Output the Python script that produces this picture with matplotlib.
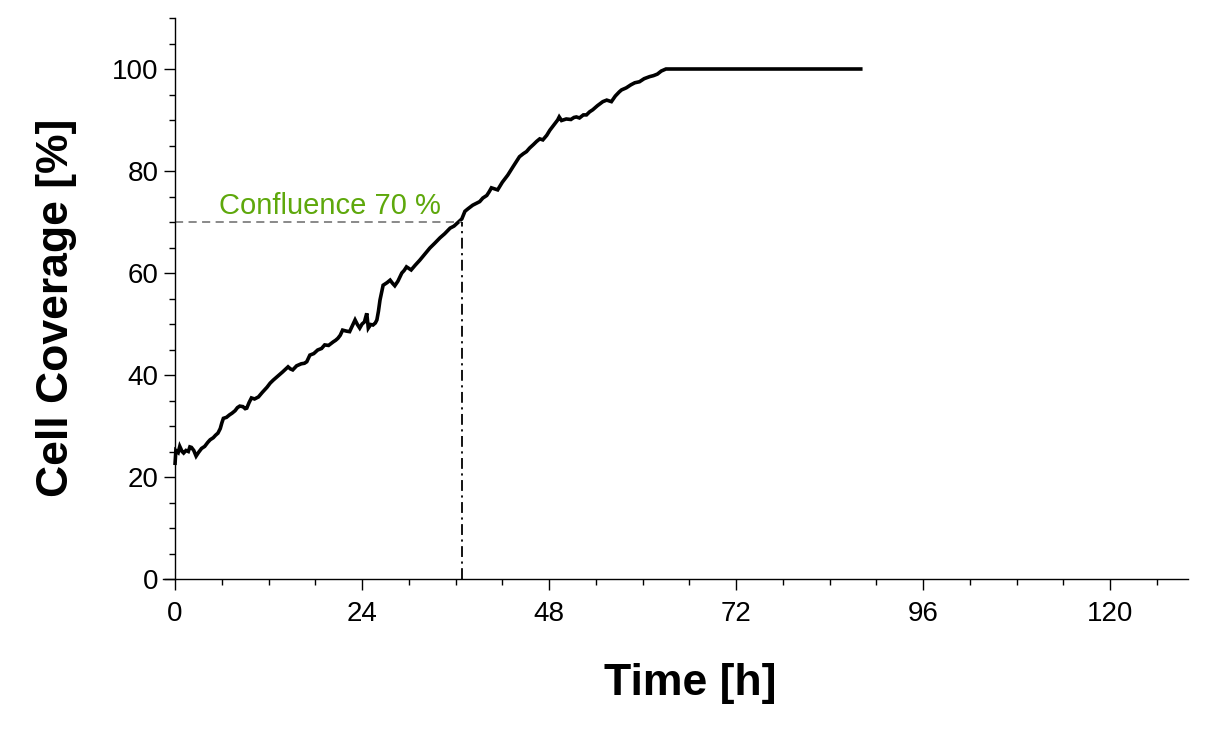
import matplotlib
matplotlib.use("Agg")
import matplotlib.pyplot as plt
from matplotlib.ticker import MultipleLocator

plt.rcParams['font.family'] = ['Liberation Sans', 'DejaVu Sans']

# Zeit [h] und Zellbedeckung [%]
time_h = [0, 0.1, 0.4, 0.6, 0.9, 1.1, 1.4, 1.7, 1.9, 2.1, 2.4, 2.7, 3.0, 3.4, 3.8,
          4.2, 4.5, 4.9, 5.2, 5.5, 5.8, 6.0, 6.2, 6.6, 7.0, 7.3, 7.7, 8.0, 8.3, 8.7,
          9.0, 9.2, 9.5, 9.8, 10.2, 10.7, 11.2, 11.8, 12.2, 12.6, 13.2, 13.8, 14.5,
          14.8, 15.1, 15.6, 16.2, 16.6, 16.9, 17.3, 17.8, 18.3, 18.8, 19.2, 19.7,
          20.3, 20.6, 20.9, 21.2, 21.5, 22.0, 22.4, 22.8, 23.1, 23.4, 23.7, 24.0,
          24.3, 24.6, 24.8, 25.1, 25.4, 25.7, 25.9, 26.1, 26.3, 26.7, 27.2, 27.6,
          27.9, 28.2, 28.6, 29.1, 29.4, 29.7, 30.3, 30.8, 31.4, 32.0, 32.7, 33.3,
          34.0, 34.6, 35.3, 35.8, 36.3, 36.8, 37.2, 37.6, 38.2, 38.7, 39.1, 39.5,
          40.0, 40.3, 40.6, 41.0, 41.4, 42.0, 42.7, 43.4, 44.2, 44.7, 45.1, 45.5,
          46.0, 46.4, 46.8, 47.2, 47.7, 48.1, 48.6, 49.1, 49.3, 49.6, 50.2, 50.8,
          51.2, 51.5, 51.9, 52.4, 52.8, 53.2, 53.6, 54.2, 54.9, 55.4, 56.0, 56.5,
          57.0, 57.3, 57.9, 58.5, 59.0, 59.6, 60.2, 60.9, 61.4, 61.9, 62.4, 63.0,
          88.0]
coverage = [22.7, 25.2, 24.8, 26.0, 25.0, 24.7, 25.2, 25.0, 25.9, 25.8, 25.2, 24.1,
            24.8, 25.6, 26.0, 26.8, 27.3, 27.7, 28.2, 28.6, 29.5, 30.6, 31.5, 31.7,
            32.2, 32.5, 33.0, 33.6, 33.9, 33.8, 33.4, 33.5, 34.6, 35.5, 35.3, 35.7,
            36.6, 37.6, 38.4, 39.0, 39.8, 40.6, 41.6, 41.2, 41.0, 41.8, 42.2, 42.3,
            42.6, 43.9, 44.2, 44.9, 45.2, 45.9, 45.8, 46.5, 46.8, 47.2, 47.8, 48.8,
            48.6, 48.5, 49.8, 50.8, 49.9, 49.2, 50.0, 50.4, 52.1, 49.2, 49.9, 49.8,
            50.2, 50.8, 52.5, 54.7, 57.6, 58.1, 58.6, 58.0, 57.5, 58.4, 60.0, 60.5,
            61.2, 60.6, 61.5, 62.5, 63.6, 64.9, 65.8, 66.9, 67.7, 68.8, 69.2, 69.9,
            70.6, 72.1, 72.6, 73.3, 73.7, 74.0, 74.7, 75.2, 75.9, 76.7, 76.5, 76.3,
            77.8, 79.2, 80.9, 82.8, 83.4, 83.8, 84.5, 85.2, 85.8, 86.3, 86.1, 87.0,
            88.0, 89.0, 90.0, 90.6, 89.9, 90.2, 90.1, 90.5, 90.6, 90.4, 91.0, 91.0,
            91.6, 92.0, 92.8, 93.6, 93.9, 93.6, 94.7, 95.5, 95.9, 96.3, 96.9, 97.3,
            97.5, 98.1, 98.5, 98.7, 99.0, 99.6, 100.0, 100.0]

confluence_level = 70
confluence_time = 36.8

fig = plt.figure(figsize=(12.2, 7.29), dpi=100)
ax = fig.add_axes([163 / 1220, 1 - 579 / 729, (1188 - 163) / 1220, (579 - 18) / 729])

ax.plot(time_h, coverage, color='black', lw=2.6, solid_joinstyle='miter')
ax.plot([0, confluence_time], [confluence_level, confluence_level],
        color='#808080', lw=1.3, ls=(0, (4.5, 3)))
ax.plot([confluence_time, confluence_time], [0, confluence_level],
        color='black', lw=1.3, ls=(0, (6, 2.5, 1.2, 2.5)))
ax.text(5.6, 71.6, 'Confluence 70 %', color='#5ea80c', fontsize=21,
        ha='left', va='baseline')

ax.set_xlim(-1.55, 130)
ax.set_ylim(0, 110)
ax.spines['left'].set_position(('data', 0))
ax.spines['top'].set_visible(False)
ax.spines['right'].set_visible(False)
for s in ('left', 'bottom'):
    ax.spines[s].set_linewidth(1.0)

ax.xaxis.set_major_locator(MultipleLocator(24))
ax.xaxis.set_minor_locator(MultipleLocator(6))
ax.yaxis.set_major_locator(MultipleLocator(20))
ax.yaxis.set_minor_locator(MultipleLocator(5))
ax.tick_params(which='major', length=8, width=1.0, labelsize=20, direction='out')
ax.tick_params(which='minor', length=4, width=1.0, direction='out')
ax.tick_params(axis='x', pad=8)
ax.tick_params(axis='y', pad=4)

fig.text(690 / 1220, 1 - 683 / 729, 'Time [h]', fontsize=32, fontweight='bold',
         ha='center', va='center')
fig.text(57 / 1220, 1 - 308 / 729, 'Cell Coverage [%]', fontsize=32,
         fontweight='bold', rotation=90, ha='center', va='center')

fig.savefig('out.png', dpi=100)
